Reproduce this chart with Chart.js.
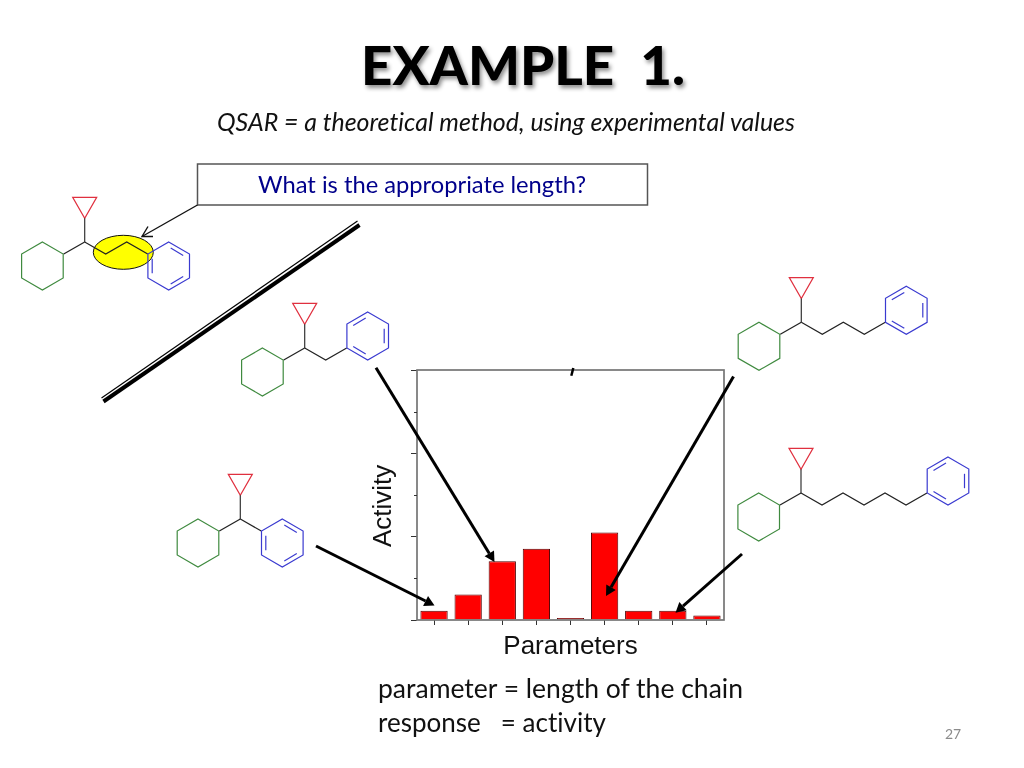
<!DOCTYPE html>
<html>
<head>
<meta charset="utf-8">
<title>EXAMPLE 1.</title>
<script src="https://cdn.jsdelivr.net/npm/chart.js@4/dist/chart.umd.min.js"></script>
<style>
    html, body { margin: 0; padding: 0; background: #fff; }
    #slide { position: relative; width: 1024px; height: 768px; overflow: hidden; background: #fff; }
    #chart_box { position: absolute; left: 360px; top: 360px; width: 380px; height: 302px; }
    #overlay { position: absolute; left: 0; top: 0; }
    #overlay text { font-family: Lato, "Open Sans", sans-serif; white-space: pre; font-variant-ligatures: none; }
</style>
</head>
<body>
<div id="slide">
    <div id="chart_box"><canvas id="activity_chart" width="380" height="302"></canvas></div>
    <svg id="overlay" width="1024" height="768" xmlns="http://www.w3.org/2000/svg">
        <defs>
            <filter id="title_shadow" x="-10%" y="-20%" width="120%" height="150%">
                <feDropShadow dx="2" dy="3" stdDeviation="2" flood-color="#000" flood-opacity="0.45"/>
            </filter>
        </defs>
        <text x="361" y="85" font-size="54" font-weight="900" fill="#000" textLength="324" lengthAdjust="spacingAndGlyphs" filter="url(#title_shadow)" xml:space="preserve">EXAMPLE  1.</text>
        <text x="217" y="131" font-size="24.5" font-style="italic" fill="#111" textLength="578" lengthAdjust="spacingAndGlyphs">QSAR = a theoretical method, using experimental values</text>
        <rect x="197.5" y="164" width="450" height="41" fill="#fff" stroke="#555" stroke-width="1.5"/>
        <text x="258" y="193" font-size="24" fill="#00008b" textLength="328" lengthAdjust="spacingAndGlyphs">What is the appropriate length?</text>
        <text x="378" y="698" font-size="27" fill="#111" textLength="365" lengthAdjust="spacingAndGlyphs">parameter = length of the chain</text>
        <text x="378" y="732" font-size="27" fill="#111" textLength="228" lengthAdjust="spacingAndGlyphs" xml:space="preserve">response   = activity</text>
        <text x="945" y="739" font-size="14" fill="#8b8b8b">27</text>
        <g id="molecules"></g>
        <g id="arrows"></g>
    </svg>
</div>

<script>
// chart values
const categories = ['1', '2', '3', '4', '5', '6', '7', '8', '9'];
const activityValues = [0.22, 0.61, 1.41, 1.71, 0.05, 2.1, 0.22, 0.22, 0.11];
const minorTicks = [1, 3, 5];

// junction point of each drawn molecule and how many chain bonds it has
const moleculeX = [84.7, 304.7, 240.3, 801.3, 801];
const moleculeY = [242, 348, 519, 322.3, 493];
const moleculeChain = [3, 2, 1, 4, 6];

const svgNs = 'http://www.w3.org/2000/svg';

function add_Svg(parent, tag, attrs) {
    var el = document.createElementNS(svgNs, tag);
    for (var key in attrs) {
        el.setAttribute(key, attrs[key]);
    }
    parent.appendChild(el);
    return el;
}

function poly(parent, points, color, closed) {
    var text = points.map(function (p) { return p[0].toFixed(1) + ',' + p[1].toFixed(1); }).join(' ');
    add_Svg(parent, closed ? 'polygon' : 'polyline', {
        points: text, fill: 'none', stroke: color, 'stroke-width': 1.2, 'stroke-linejoin': 'miter'
    });
}

function hexagon(cx, cy, r) {
    var pts = [];
    for (var i = 0; i < 6; i++) {
        var a = (i * 60 - 90) * Math.PI / 180;
        pts.push([cx + r * Math.cos(a), cy + r * Math.sin(a)]);
    }
    return pts;
}

function drawMolecule(parent, x, y, steps) {
    // cyclopropane on the stem
    poly(parent, [[x - 12, y - 44.7], [x + 12, y - 44.7], [x, y - 23.7]], '#e0303f', true);
    poly(parent, [[x, y - 23.7], [x, y]], '#333', false);
    // cyclohexane
    poly(parent, hexagon(x - 42.3, y + 24, 24), '#3f8a3f', true);
    poly(parent, [[x - 21, y + 12], [x, y]], '#222', false);
    // chain
    var chain = [[x, y]];
    for (var i = 0; i < steps; i++) {
        chain.push([x + 21 * (i + 1), y + (i % 2 == 0 ? 12 : 0)]);
    }
    poly(parent, chain, '#222', false);
    // benzene with the three inner bonds
    var end = chain[chain.length - 1];
    var odd = steps % 2 == 1;
    var cx = end[0] + 21;
    var cy = end[1] + (odd ? 12 : -12);
    var outer = hexagon(cx, cy, 24);
    var inner = hexagon(cx, cy, 19);
    poly(parent, outer, '#3a3ad0', true);
    var edges = odd ? [[0, 1], [2, 3], [4, 5]] : [[1, 2], [3, 4], [5, 0]];
    edges.forEach(function (e) {
        var a = inner[e[0]], b = inner[e[1]];
        var p1 = [a[0] + (b[0] - a[0]) * 0.12, a[1] + (b[1] - a[1]) * 0.12];
        var p2 = [a[0] + (b[0] - a[0]) * 0.88, a[1] + (b[1] - a[1]) * 0.88];
        poly(parent, [p1, p2], '#3a3ad0', false);
    });
}

function drawArrow(parent, x1, y1, x2, y2, width) {
    var len = Math.sqrt((x2 - x1) * (x2 - x1) + (y2 - y1) * (y2 - y1));
    var ux = (x2 - x1) / len, uy = (y2 - y1) / len;
    var bx = x2 - ux * 10, by = y2 - uy * 10;
    add_Svg(parent, 'line', { x1: x1, y1: y1, x2: bx, y2: by, stroke: '#000', 'stroke-width': width });
    add_Svg(parent, 'polygon', {
        points: x2 + ',' + y2 + ' ' + (bx - uy * 5.5) + ',' + (by + ux * 5.5) + ' ' + (bx + uy * 5.5) + ',' + (by - ux * 5.5),
        fill: '#000'
    });
}

var molecules = document.getElementById('molecules');
var arrows = document.getElementById('arrows');

// yellow highlight goes under the first molecule
add_Svg(molecules, 'ellipse', { cx: 123.3, cy: 252.3, rx: 30, ry: 17, fill: '#ffff00', stroke: '#111', 'stroke-width': 1 });
for (var m = 0; m < moleculeChain.length; m++) {
    drawMolecule(molecules, moleculeX[m], moleculeY[m], moleculeChain[m]);
}

// callout leader with open head
add_Svg(arrows, 'line', { x1: 197.5, y1: 205, x2: 142, y2: 236.5, stroke: '#111', 'stroke-width': 1.4 });
add_Svg(arrows, 'polyline', { points: '148,226.5 142,236.5 153,236.5', fill: 'none', stroke: '#111', 'stroke-width': 1.4 });

// the double diagonal rule
add_Svg(arrows, 'line', { x1: 103.5, y1: 401.5, x2: 359.5, y2: 225, stroke: '#000', 'stroke-width': 4 });
add_Svg(arrows, 'line', { x1: 101.5, y1: 398, x2: 357.5, y2: 221, stroke: '#000', 'stroke-width': 1.2 });

drawArrow(arrows, 376, 367.7, 494.5, 562, 3);
drawArrow(arrows, 733.5, 376.5, 606, 596, 3);
drawArrow(arrows, 742, 554, 675.5, 612.7, 3);
drawArrow(arrows, 316, 546, 434.5, 605.5, 3);
add_Svg(arrows, 'line', { x1: 573.3, y1: 368, x2: 571.3, y2: 375.7, stroke: '#000', 'stroke-width': 2.5 });

// frame on top and right plus the short ticks between the major ones
const framePlugin = {
    id: 'framePlugin',
    afterDraw: function (chart) {
        var ctx = chart.ctx;
        var area = chart.chartArea;
        var y = chart.scales.y;
        ctx.save();
        ctx.strokeStyle = '#757575';
        ctx.lineWidth = 1.7;
        ctx.strokeRect(area.left, area.top, area.right - area.left, area.bottom - area.top);
        ctx.strokeStyle = '#333';
        ctx.lineWidth = 1;
        minorTicks.forEach(function (v) {
            var py = Math.round(y.getPixelForValue(v)) + 0.5;
            ctx.beginPath();
            ctx.moveTo(area.left - 3, py);
            ctx.lineTo(area.left, py);
            ctx.stroke();
        });
        ctx.restore();
    }
};

var ctx = document.getElementById('activity_chart').getContext('2d');
var activityChart = new Chart(ctx, {
    type: 'bar',
    data: {
        labels: categories,
        datasets: [
            {
                label: 'Activity',
                data: activityValues,
                backgroundColor: '#ff0000',
                borderColor: '#500000',
                borderWidth: 1,
                barPercentage: 0.8,
                categoryPercentage: 1
            }
        ]
    },
    options: {
        responsive: false,
        animation: false,
        layout: { padding: { top: 10, right: 16, left: 0, bottom: 0 } },
        plugins: {
            legend: { display: false },
            tooltip: { enabled: false }
        },
        scales: {
            x: {
                afterFit: function (scale) { scale.height = 42; },
                offset: true,
                grid: { offset: false, drawOnChartArea: false, tickLength: 5, tickColor: '#333' },
                border: { display: false },
                ticks: { display: false },
                title: {
                    display: true,
                    text: 'Parameters',
                    color: '#111',
                    font: { family: '"Liberation Sans", Arial, sans-serif', size: 26 },
                    padding: 0
                }
            },
            y: {
                afterFit: function (scale) { scale.width = 57; },
                min: 0,
                max: 6,
                grid: { drawOnChartArea: false, tickLength: 6, tickColor: '#333' },
                border: { display: false },
                ticks: { display: false, stepSize: 2 },
                title: {
                    display: true,
                    text: 'Activity   ',
                    color: '#111',
                    font: { family: '"Liberation Sans", Arial, sans-serif', size: 26 },
                    padding: { top: 8, bottom: 0 }
                }
            }
        }
    },
    plugins: [framePlugin]
});
</script>
</body>
</html>
